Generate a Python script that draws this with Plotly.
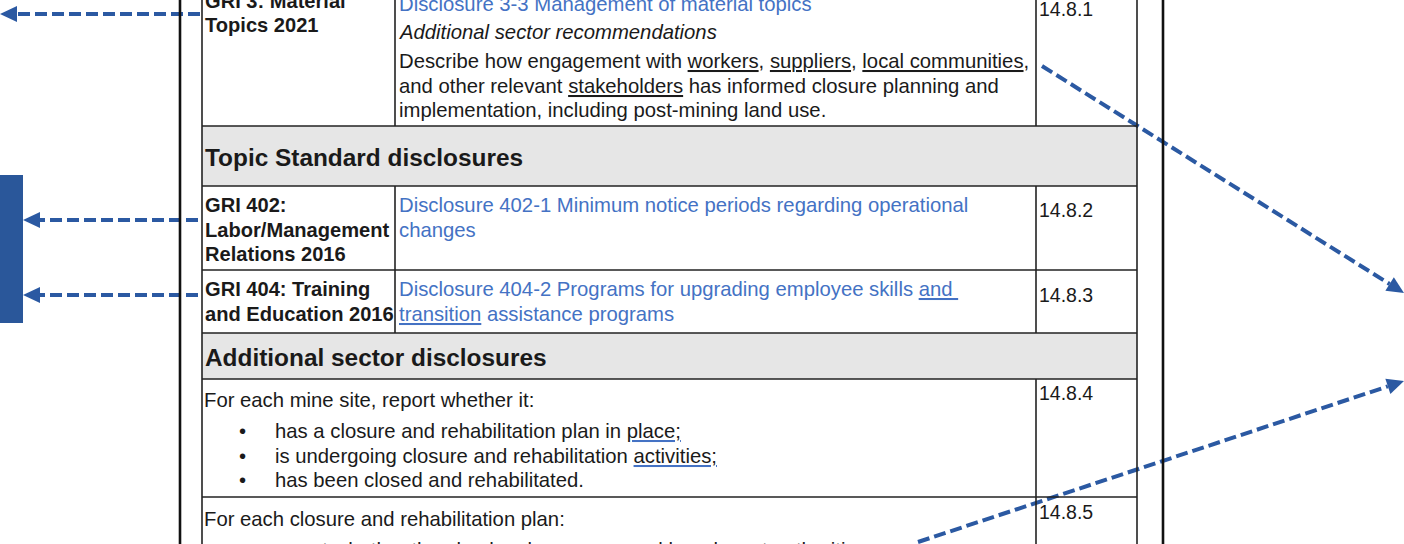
import numpy as np
import plotly.graph_objects as go

W, H = 1404, 544
FONT = "Arial, Liberation Sans, sans-serif"
BLACK = "#1a1a1a"
LINK = "#4472C4"
ARROW = "#2B59A2"
TS = 20.3   # body text size
CS = 19.5   # code column size

def u(s):
    return '<span style="text-decoration:underline">' + s + '</span>'

def sq(s, color=BLACK):
    return ('<span style="text-decoration:underline;color:#4472C4"><span style="color:'
            + color + '">' + s + '</span></span>')

# ---------------- data ----------------
section_headers = ["Topic Standard disclosures", "Additional sector disclosures"]
standards = [["GRI 3: Material", "Topics 2021"],
             ["GRI 402:", "Labor/Management", "Relations 2016"],
             ["GRI 404: Training", "and Education 2016"]]
disclosures = [["Disclosure 3-3 Management of material topics"],
               ["Disclosure 402-1 Minimum notice periods regarding operational", "changes"],
               ["Disclosure 404-2 Programs for upgrading employee skills " + sq("and ", LINK),
                sq("transition", LINK) + " assistance programs"]]
recommendation_title = "Additional sector recommendations"
recommendation_lines = ["Describe how engagement with " + u("workers") + ", " + u("suppliers") + ", "
                        + u("local communities") + ",",
                        "and other relevant " + u("stakeholders") + " has informed closure planning and",
                        "implementation, including post-mining land use."]
codes = ["14.8.1", "14.8.2", "14.8.3", "14.8.4", "14.8.5"]
sector_intro = ["For each mine site, report whether it:", "For each closure and rehabilitation plan:"]
sector_bullets = [["has a closure and rehabilitation plan in " + sq("place;"),
                   "is undergoing closure and rehabilitation " + sq("activities;"),
                   "has been closed and rehabilitated."],
                  ["report whether the plan has been approved by relevant authorities;"]]

# ---------------- layout geometry ----------------
X_PAGE = [180, 1163]
X_TAB = [202, 395, 1036, 1137]
ROWS = [-40, 126, 186, 270, 333, 379, 497, 600]  # row boundaries
LINE_H = 24.5

fig = go.Figure()
shapes = []
annotations = []

for (y0, y1) in [(ROWS[1], ROWS[2]), (ROWS[4], ROWS[5])]:
    shapes.append(dict(type="rect", x0=X_TAB[0], x1=X_TAB[3], y0=y0, y1=y1,
                       fillcolor="#E6E6E6", line=dict(width=0), layer="below"))

tl = dict(color="#222222", width=1.6)
for y in ROWS[1:-1]:
    shapes.append(dict(type="line", x0=X_TAB[0], x1=X_TAB[3], y0=y, y1=y, line=tl))
for x in (X_TAB[0], X_TAB[3]):
    shapes.append(dict(type="line", x0=x, x1=x, y0=ROWS[0], y1=ROWS[-1], line=tl))
for (y0, y1) in [(ROWS[0], ROWS[1]), (ROWS[2], ROWS[4])]:
    for x in (X_TAB[1], X_TAB[2]):
        shapes.append(dict(type="line", x0=x, x1=x, y0=y0, y1=y1, line=tl))
shapes.append(dict(type="line", x0=X_TAB[2], x1=X_TAB[2], y0=ROWS[5], y1=ROWS[-1], line=tl))
for x in X_PAGE:
    shapes.append(dict(type="line", x0=x, x1=x, y0=-10, y1=H + 10,
                       line=dict(color="#111111", width=2.6)))

shapes.append(dict(type="rect", x0=-5, x1=23, y0=175, y1=323, fillcolor="#2A579A",
                   line=dict(width=0)))

def txt(x, y, s, size=TS, color=BLACK, bold=False, italic=False, yanchor="middle"):
    if bold:
        s = "<b>" + s + "</b>"
    if italic:
        s = "<i>" + s + "</i>"
    annotations.append(dict(x=x, y=y, xref="x", yref="y", text=s, showarrow=False,
                            xanchor="left", yanchor=yanchor, align="left",
                            font=dict(family=FONT, size=size, color=color)))

txt(X_TAB[0] + 1, 157, section_headers[0], size=24.4, bold=True)
txt(X_TAB[0] + 1, 357, section_headers[1], size=24.4, bold=True)

std_y0 = [0.5, 205, 289]
for lines, y0 in zip(standards, std_y0):
    for i, s in enumerate(lines):
        txt(X_TAB[0] + 1, y0 + i * LINE_H, s, size=20.1, bold=True)

disc_y0 = [4, 205, 289]
for lines, y0 in zip(disclosures, disc_y0):
    for i, s in enumerate(lines):
        txt(X_TAB[1] + 2, y0 + i * LINE_H, s, color=LINK)

txt(X_TAB[1] + 2, 32, recommendation_title, italic=True)
for i, s in enumerate(recommendation_lines):
    txt(X_TAB[1] + 2, 61 + i * LINE_H, s)

code_y = [9, 210, 295, 393, 512]
for c, y in zip(codes, code_y):
    txt(X_TAB[2] + 1, y, c, size=CS)

# sector disclosures (second block's bullet is anchored by its top, as it runs off the page)
intro_y = [400, 519]
bullet_y0 = [431, 536.5]
bullet_anchor = ["middle", "top"]
for intro, bl, yi, yb, ya in zip(sector_intro, sector_bullets, intro_y, bullet_y0, bullet_anchor):
    txt(X_TAB[0] + 0, yi, intro)
    for i, s in enumerate(bl):
        txt(237, yb + i * LINE_H, "•", yanchor=ya)
        txt(273, yb + i * LINE_H, s, yanchor=ya)

# ---------------- dashed arrows ----------------
arrows = [((200, 14), (0, 14)),
          ((198, 220), (23, 220)),
          ((198, 295), (23, 295)),
          ((1042, 66), (1404, 293)),
          ((918, 542), (1404, 381))]
HEAD_L, HEAD_W = 17, 16
for (sx, sy), (tx, ty) in arrows:
    d = np.array([tx - sx, ty - sy], dtype=float)
    d /= np.linalg.norm(d)
    n = np.array([-d[1], d[0]])
    tip = np.array([tx, ty], dtype=float)
    base = tip - d * HEAD_L
    fig.add_trace(go.Scatter(x=[sx, base[0]], y=[sy, base[1]], mode="lines",
                             line=dict(color=ARROW, width=4, dash="12px,5px"),
                             hoverinfo="skip", showlegend=False))
    p1 = base + n * HEAD_W / 2
    p2 = base - n * HEAD_W / 2
    path = f"M {tip[0]},{tip[1]} L {p1[0]},{p1[1]} L {p2[0]},{p2[1]} Z"
    shapes.append(dict(type="path", path=path, fillcolor=ARROW, line=dict(width=0)))

fig.update_layout(
    width=W, height=H, margin=dict(l=0, r=0, t=0, b=0),
    paper_bgcolor="white", plot_bgcolor="white",
    xaxis=dict(range=[0, W], visible=False, fixedrange=True),
    yaxis=dict(range=[H, 0], visible=False, fixedrange=True),
    shapes=shapes, annotations=annotations, showlegend=False,
)
fig.write_html("out.html", config={"displayModeBar": False},
               post_script="document.body.style.margin='0';document.body.style.overflow='hidden';")
